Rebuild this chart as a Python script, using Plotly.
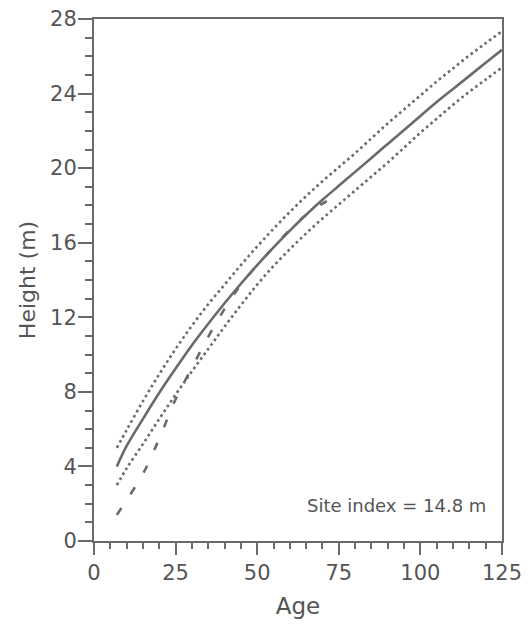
import plotly.graph_objects as go

ages = [7, 10, 15, 20, 25, 30, 35, 40, 45, 50, 55, 60, 65, 70, 75, 80, 85, 90, 95, 100, 105, 110, 115, 120, 125]
height_mean = [4.0, 5.1, 6.55, 7.95, 9.25, 10.5, 11.65, 12.75, 13.8, 14.8, 15.75, 16.65, 17.5, 18.3, 19.05,
               19.8, 20.55, 21.3, 22.05, 22.8, 23.55, 24.25, 24.95, 25.65, 26.35]
height_upper = [5.0, 5.95, 7.5, 8.95, 10.3, 11.55, 12.7, 13.75, 14.8, 15.8, 16.75, 17.65, 18.5, 19.3, 20.05,
                20.8, 21.6, 22.4, 23.15, 23.9, 24.65, 25.35, 26.05, 26.7, 27.35]
height_lower = [3.0, 3.9, 5.2, 6.55, 7.85, 9.1, 10.3, 11.5, 12.65, 13.75, 14.75, 15.65, 16.5, 17.3, 18.05,
                18.8, 19.55, 20.3, 21.1, 21.9, 22.65, 23.4, 24.1, 24.75, 25.4]
dashed_ages = [7, 10, 15, 20, 25, 30, 35, 40, 45, 50, 55, 60, 65, 70, 76]
height_dashed = [1.4, 2.2, 3.6, 5.5, 7.6, 9.3, 10.95, 12.45, 13.75, 14.8, 15.75, 16.7, 17.5, 18.1, 18.6]

x_ticks = [0, 25, 50, 75, 100, 125]
y_ticks = [0, 4, 8, 12, 16, 20, 24, 28]

LINE = "#6a6a6a"
TEXT = "#555555"
FONT = "DejaVu Sans, sans-serif"

fig = go.Figure()
fig.add_trace(go.Scatter(x=ages, y=height_upper, mode="lines",
                         line=dict(color=LINE, width=2.6, dash="2.6px,3.2px", shape="spline")))
fig.add_trace(go.Scatter(x=ages, y=height_lower, mode="lines",
                         line=dict(color=LINE, width=2.6, dash="2.6px,3.2px", shape="spline")))
fig.add_trace(go.Scatter(x=dashed_ages, y=height_dashed, mode="lines",
                         line=dict(color=LINE, width=2.6, dash="8px,17px", shape="spline")))
fig.add_trace(go.Scatter(x=ages, y=height_mean, mode="lines",
                         line=dict(color=LINE, width=2.6, shape="spline")))

fig.add_annotation(x=0.965, y=0.068, xref="paper", yref="paper", xanchor="right", yanchor="middle",
                   text="Site index = 14.8 m", showarrow=False,
                   font=dict(family=FONT, size=18, color=TEXT))

fig.update_layout(
    width=524, height=617,
    margin=dict(l=86, r=30, t=11, b=84, autoexpand=False),
    paper_bgcolor="white", plot_bgcolor="white",
    showlegend=False,
    font=dict(family=FONT, color=TEXT),
    xaxis=dict(range=[0, 125], tickvals=x_ticks, ticktext=[str(v) for v in x_ticks],
               showgrid=False, zeroline=False, showline=True, mirror=True, automargin=False,
               ticklabeloverflow="allow",
               linecolor=LINE, linewidth=2, ticks="outside", ticklen=12, tickwidth=2,
               tickcolor=LINE, tickfont=dict(size=21, color=TEXT, family=FONT),
               minor=dict(dtick=5, ticks="outside", ticklen=6, tickwidth=1.5, tickcolor=LINE, showgrid=False),
               title=dict(text="Age", font=dict(size=23, color=TEXT, family=FONT), standoff=14)),
    yaxis=dict(range=[0, 28], tickvals=y_ticks, ticktext=[str(v) for v in y_ticks],
               showgrid=False, zeroline=False, showline=True, mirror=True, automargin=False,
               ticklabeloverflow="allow",
               linecolor=LINE, linewidth=2, ticks="outside", ticklen=14, tickwidth=2,
               tickcolor=LINE, tickfont=dict(size=21, color=TEXT, family=FONT),
               ticklabelstandoff=-3,
               minor=dict(dtick=1, ticks="outside", ticklen=7, tickwidth=1.5, tickcolor=LINE, showgrid=False),
               title=dict(text="Height (m)", font=dict(size=22, color=TEXT, family=FONT), standoff=8)),
)

fig.write_html("out.html")
